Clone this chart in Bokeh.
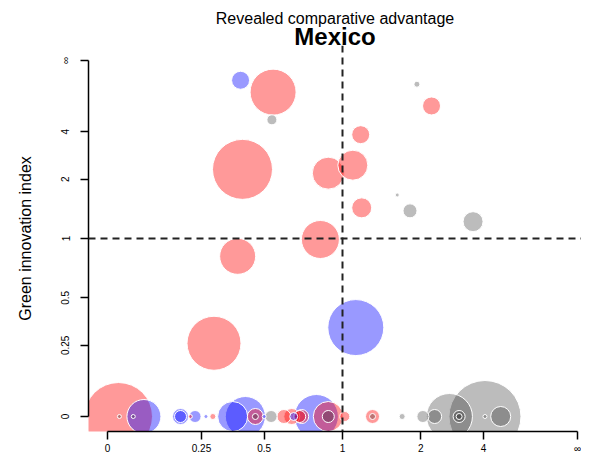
import numpy as np
from bokeh.plotting import figure
from bokeh.models import ColumnDataSource, Span, Title, FixedTicker
from bokeh.embed import file_html
from bokeh.resources import INLINE

# ---------------- data ----------------
title_top = "Revealed comparative advantage"
title_main = "Mexico"
y_label = "Green innovation index"

tick_values = [0, 0.25, 0.5, 1, 2, 4, np.inf]
tick_labels = ["0", "0.25", "0.5", "1", "2", "4", "\u221e"]

# revealed comparative advantage (x), green innovation index (y),
# export weight (bubble area), product group
rca = [0.395, 0.544, 0.538, 0.403, 0.886, 1.092, 1.168, 1.178, 1.927, 2.22,
       1.607, 1.806, 3.50, 0.828, 0.383, 1.12, 0.293,
       0.024, 0.026, 0.084, 0.058, 0.184, 0.184, 0.214, 0.229, 0.265, 0.289,
       0.363, 0.415, 0.459, 0.459, 0.50, 0.534, 0.601, 0.645, 0.656, 0.692,
       0.704, 0.80, 0.886, 0.886, 1.02, 1.293, 1.293, 1.68, 2.04, 2.29,
       2.67, 4.08, 2.97, 2.97, 4.08, 5.12]
gii = [17.0, 10.25, 5.0, 2.27, 2.16, 2.40, 3.80, 1.416, 14.0, 6.83,
       1.647, 1.368, 1.209, 0.989, 0.818, 0.333, 0.259,
       0, 0, 0, 0, 0, 0, 0, 0, 0, 0,
       0, 0, 0, 0, 0, 0, 0, 0, 0, 0,
       0, 0, 0, 0, 0, 0, 0, 0, 0, 0,
       0, 0, 0, 0, 0, 0]
weight = [0.81, 5.29, 0.25, 9.00, 2.56, 2.25, 0.81, 1.00, 0.09, 0.81,
          0.04, 0.49, 1.00, 3.61, 3.24, 7.84, 7.29,
          11.56, 0.04, 2.89, 0.04, 0.64, 0.36, 0.04, 0.36, 0.04, 0.09,
          2.25, 4.00, 0.64, 0.09, 0.04, 0.36, 0.49, 0.64, 0.16, 0.36,
          0.49, 4.84, 2.25, 0.36, 0.25, 0.49, 0.09, 0.09, 0.36, 0.49,
          5.29, 12.96, 0.36, 0.09, 0.04, 1.00]
group = ["blue", "red", "gray", "red", "red", "red", "red", "red", "gray", "red",
         "gray", "gray", "gray", "red", "red", "blue", "red",
         "red", "gray", "blue", "gray", "blue", "blue", "red", "blue", "blue", "red",
         "blue", "blue", "red", "gray", "blue", "gray", "red", "red", "blue", "red",
         "red", "blue", "red", "gray", "red", "red", "gray", "gray", "gray", "gray",
         "gray", "gray", "gray", "gray", "gray", "gray"]

# ---------------- helpers ----------------
def squash(v):
    v = np.asarray(v, dtype=float)
    return np.where(np.isinf(v), 1.0, v / (1.0 + v))

fill_map = {"red": "#FF0000", "blue": "#0000FF", "gray": "#222222"}
alpha_map = {"red": 0.4, "blue": 0.4, "gray": 0.3}

order = np.argsort(-np.asarray(weight), kind="stable")
src = ColumnDataSource(dict(
    tx=squash(rca)[order],
    ty=squash(gii)[order],
    diam=(20.0 * np.sqrt(np.asarray(weight)))[order],
    color=[fill_map[group[i]] for i in order],
    alpha=[alpha_map[group[i]] for i in order],
))

FONT = "Liberation Sans"

p = figure(width=581, height=456,
           x_range=(-0.0404, 1.0085), y_range=(-0.0421, 1.0421),
           output_backend="svg", toolbar_location=None,
           min_border_left=88, min_border_right=0,
           min_border_top=45, min_border_bottom=25)
p.xgrid.visible = False
p.ygrid.visible = False
p.outline_line_color = None

p.title.text = title_top
p.title.align = "center"
p.title.text_font = FONT
p.title.text_font_size = "16px"
p.title.text_font_style = "normal"
p.title.text_color = "black"
p.title.standoff = -3
p.title.offset = 11
p.add_layout(Title(text=title_main, align="center", text_font=FONT,
                   text_font_size="24px", text_font_style="bold",
                   text_color="black", standoff=-9, offset=11), "above")

p.scatter(x="tx", y="ty", size="diam", fill_color="color", fill_alpha="alpha",
          line_color="white", line_width=1, source=src)

tick_pos = [float(t) for t in squash(tick_values)]
overrides = {tp: lab for tp, lab in zip(tick_pos, tick_labels)}

for ax in (p.xaxis[0], p.yaxis[0]):
    ax.ticker = FixedTicker(ticks=tick_pos)
    ax.major_label_overrides = overrides
    ax.bounds = (0, 1)
    ax.axis_line_color = "black"
    ax.axis_line_width = 1.5
    ax.major_tick_line_color = "black"
    ax.major_tick_line_width = 1.5
    ax.major_tick_out = 8
    ax.major_tick_in = 0
    ax.minor_tick_line_color = None
    ax.major_label_text_font = FONT
    ax.major_label_text_font_size = "10px"
    ax.major_label_text_color = "black"

p.xaxis.major_label_standoff = 3
p.yaxis.major_label_standoff = 9
p.yaxis.major_label_orientation = "vertical"
p.yaxis.axis_label = y_label
p.yaxis.axis_label_text_font = FONT
p.yaxis.axis_label_text_font_size = "16px"
p.yaxis.axis_label_text_font_style = "normal"
p.yaxis.axis_label_text_color = "black"
p.yaxis.axis_label_standoff = 24

one = float(squash([1.0])[0])
p.add_layout(Span(location=one, dimension="height", line_dash="7 5",
                  line_width=2, line_color="#222222"))
p.add_layout(Span(location=one, dimension="width", line_dash="7 5",
                  line_width=2, line_color="#222222"))

open("out.html", "w").write(file_html(p, INLINE))
